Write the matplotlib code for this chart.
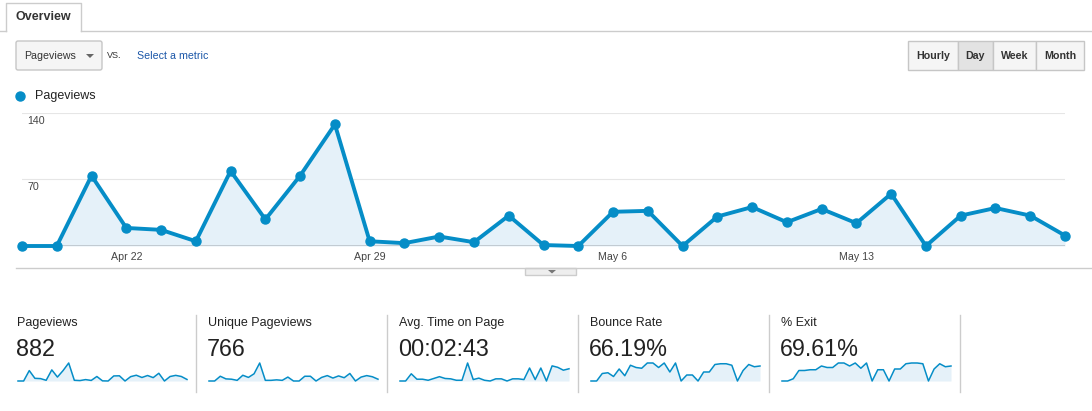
import matplotlib
matplotlib.use("Agg")
import matplotlib.pyplot as plt
from matplotlib.patches import Rectangle, FancyBboxPatch, Polygon
import numpy as np
import pandas as pd

plt.rcParams['font.family'] = ['Liberation Sans', 'DejaVu Sans']

# ---- data ----
days = pd.date_range('2016-04-19', periods=31, freq='D')
pageviews = [0, 0, 74, 19, 17, 5, 79, 28, 74, 128, 5, 3, 10, 4, 32, 1,
             0, 36, 37, 0, 31, 41, 25, 39, 24, 55, 0, 32, 40, 32, 11]
unique_pageviews = [0, 0, 29, 13, 11, 4, 35, 22, 44, 110, 4, 4, 7, 4, 24, 0,
                    0, 29, 29, 0, 22, 33, 18, 31, 20, 46, 0, 24, 33, 26, 11]
avg_time_sec = [0, 0, 336, 84, 84, 34, 118, 202, 118, 101, 34, 34, 840, 67,
                134, 34, 0, 101, 101, 0, 101, 101, 67, 605, 67, 605, 0, 706,
                638, 504, 571]
bounce_rate = [0, 0, 40, 44, 24, 64, 28, 84, 72, 68, 96, 96, 72, 96, 48, 96,
               0, 32, 32, 0, 48, 48, 88, 92, 92, 84, 0, 56, 88, 76, 80]
exit_rate = [0, 0, 12, 56, 56, 60, 60, 80, 72, 72, 96, 96, 80, 96, 68, 96,
             0, 60, 60, 0, 64, 64, 92, 96, 96, 92, 0, 64, 92, 76, 80]

card_titles = ['Pageviews', 'Unique Pageviews', 'Avg. Time on Page', 'Bounce Rate', '% Exit']
card_values = ['882', '766', '00:02:43', '66.19%', '69.61%']
card_series = [pageviews, unique_pageviews, avg_time_sec, bounce_rate, exit_rate]
tick_days = [3, 10, 17, 24]
y_ticks = [70, 140]
buttons = ['Hourly', 'Day', 'Week', 'Month']

BLUE = '#058dc7'
FILL = '#e5f1f9'
TEXT = '#222222'
BORDER = '#cccccc'

W, H = 1092, 411
fig = plt.figure(figsize=(W / 100, H / 100), dpi=100)
fig.patch.set_facecolor('white')


def px_axes(x0, y0, x1, y1, **kw):
    return fig.add_axes([x0 / W, 1 - y1 / H, (x1 - x0) / W, (y1 - y0) / H], **kw)


# overlay in pixel coordinates for the UI chrome
ui = px_axes(0, 0, W, H, zorder=0)
ui.set_xlim(0, W)
ui.set_ylim(H, 0)
ui.axis('off')

# Overview tab
ui.plot([0, 6], [31, 31], color=BORDER, lw=1)
ui.plot([81, W], [31, 31], color=BORDER, lw=1)
ui.plot([6, 6, 81, 81], [31, 3, 3, 31], color=BORDER, lw=1)
ui.text(15, 17, 'Overview', fontsize=9, fontweight='bold', color='#333333', va='center')

# metric dropdown
ui.add_patch(FancyBboxPatch((16, 41), 86, 29, boxstyle='round,pad=0,rounding_size=2',
                            fc='#f5f5f5', ec='#c6c6c6', lw=1))
ui.text(24, 56, 'Pageviews', fontsize=7.7, color='#333333', va='center')
ui.add_patch(Polygon([[86, 54], [94, 54], [90, 58]], closed=True, fc='#666666', ec='none'))
ui.text(107, 55, 'VS.', fontsize=6.5, color='#333333', va='center')
ui.text(137, 56, 'Select a metric', fontsize=7.7, color='#1a56a8', va='center')

# Hourly / Day / Week / Month buttons
edges = [908, 958, 993, 1036, 1084]
for i, name in enumerate(buttons):
    fc = '#e3e3e3' if name == 'Day' else '#f5f5f5'
    ui.add_patch(Rectangle((edges[i], 41), edges[i + 1] - edges[i], 29, fc=fc, ec='#c6c6c6', lw=1))
    ui.text((edges[i] + edges[i + 1]) / 2, 56, name, fontsize=7.7, fontweight='bold',
            color='#333333', ha='center', va='center')

# legend
ui.plot([20], [96], 'o', color=BLUE, ms=6.5)
ui.text(35, 96, 'Pageviews', fontsize=9, color=TEXT, va='center')

# y labels drawn inside the plot area
for v, ypx in zip(y_ticks, [187, 121]):
    ui.text(27, ypx, str(v), fontsize=7.7, color='#444444', va='center')

# bottom border and drag handle
ui.plot([16, W], [268, 268], color=BORDER, lw=1)
ui.add_patch(Rectangle((525, 268), 51, 7, fc='#eeeeee', ec=BORDER, lw=1))
ui.add_patch(Polygon([[548, 270], [556, 270], [552, 273.5]], closed=True, fc='#777777', ec='none'))

# ---- main chart ----
x = np.arange(len(pageviews))
ax = px_axes(22, 113, 1065, 246, zorder=2)
ax.set_facecolor('none')
ax.set_xlim(0, len(pageviews) - 1)
ax.set_ylim(0, 140)
for v in y_ticks:
    ax.axhline(v, color='#e6e6e6', lw=0.8, zorder=0)
ax.fill_between(x, pageviews, color=FILL, lw=0, zorder=1)
ax.axhline(0, color='#333333', lw=1, zorder=2)
ax.plot(x, pageviews, color=BLUE, lw=2.8, marker='o', ms=6.5, clip_on=False, zorder=3)
for s in ax.spines.values():
    s.set_visible(False)
ax.set_yticks([])
ax.set_xticks(tick_days)
ax.set_xticklabels([days[i].strftime('%b %-d') for i in tick_days])
ax.tick_params(axis='x', length=0, pad=4, labelsize=7.7, labelcolor='#444444')

# ---- scorecards ----
for i, (title, val, series) in enumerate(zip(card_titles, card_values, card_series)):
    col = 17 + i * 191
    ui.text(col, 323, title, fontsize=9, color=TEXT, va='center')
    ui.text(col - 1, 349, val, fontsize=16.8, color=TEXT, va='center')
    ui.plot([col + 179, col + 179], [315, 392], color=BORDER, lw=1)
    sp = px_axes(col + 1, 363, col + 170, 381, zorder=2)
    sp.set_facecolor('none')
    sp.set_xlim(0, len(series) - 1)
    sp.set_ylim(0, max(series))
    sp.fill_between(x, series, color=FILL, lw=0)
    sp.plot(x, series, color=BLUE, lw=1.1, clip_on=False)
    sp.axis('off')

fig.savefig('out.png', dpi=100)
